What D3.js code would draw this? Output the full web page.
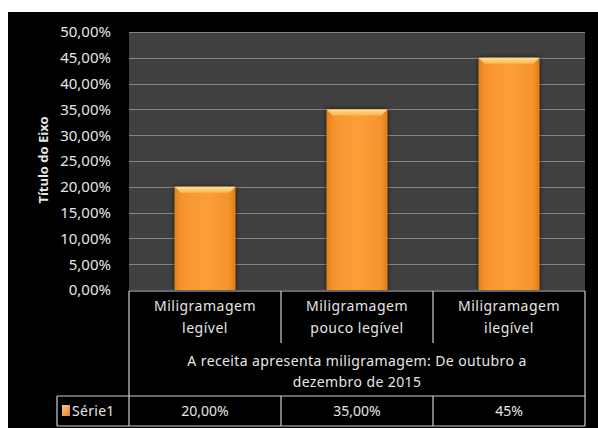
<!DOCTYPE html>
<html>
<head>
<meta charset="utf-8">
<script src="https://cdn.jsdelivr.net/npm/d3@7"></script>
<style>
  html, body { margin: 0; padding: 0; background: #fff; }
  svg { display: block; }
  text { font-family: "Noto Sans", "Open Sans", sans-serif; fill: #e6e6e6; }
</style>
</head>
<body>
<div id="chart"></div>
<script>
const categories = [
  ['Miligramagem', 'legível'],
  ['Miligramagem', 'pouco legível'],
  ['Miligramagem', 'ilegível']
];
const values = [0.20, 0.35, 0.45];
const valueLabels = ['20,00%', '35,00%', '45%'];
const yTicks = [0, 0.05, 0.10, 0.15, 0.20, 0.25, 0.30, 0.35, 0.40, 0.45, 0.50];
const seriesName = 'Série1';
const yTitle = 'Título do Eixo';
const xTitle = ['A receita apresenta miligramagem: De outubro a', 'dezembro de 2015'];

const width = 598, height = 428;
const plot = { left: 129, right: 585, top: 32, bottom: 290 };

const ptBR = d3.formatLocale({ decimal: ',', thousands: '.', grouping: [3], currency: ['R$', ''] });
const fmt = ptBR.format('.2%');

const svg = d3.select('#chart').append('svg')
  .attr('width', width)
  .attr('height', height);

const defs = svg.append('defs');

const grad = defs.append('linearGradient')
  .attr('id', 'barGrad')
  .attr('x1', 0).attr('x2', 1).attr('y1', 0).attr('y2', 0);
grad.append('stop').attr('offset', '0%').attr('stop-color', '#e4801c');
grad.append('stop').attr('offset', '12%').attr('stop-color', '#f6942c');
grad.append('stop').attr('offset', '50%').attr('stop-color', '#fb9f36');
grad.append('stop').attr('offset', '88%').attr('stop-color', '#f6942c');
grad.append('stop').attr('offset', '100%').attr('stop-color', '#e27e1b');

const capGrad = defs.append('linearGradient')
  .attr('id', 'capGrad')
  .attr('x1', 0).attr('x2', 0).attr('y1', 0).attr('y2', 1);
capGrad.append('stop').attr('offset', '0%').attr('stop-color', '#ffe09a');
capGrad.append('stop').attr('offset', '100%').attr('stop-color', '#fcb650');

const keyGrad = defs.append('linearGradient')
  .attr('id', 'keyGrad')
  .attr('x1', 0).attr('x2', 1).attr('y1', 0).attr('y2', 1);
keyGrad.append('stop').attr('offset', '0%').attr('stop-color', '#f9c98a');
keyGrad.append('stop').attr('offset', '100%').attr('stop-color', '#e5821f');

const shadow = defs.append('filter')
  .attr('id', 'shadow')
  .attr('x', '-20%').attr('y', '-10%').attr('width', '140%').attr('height', '120%');
shadow.append('feGaussianBlur').attr('in', 'SourceAlpha').attr('stdDeviation', 2.5).attr('result', 'b');
shadow.append('feComponentTransfer').attr('in', 'b').attr('result', 's')
  .append('feFuncA').attr('type', 'linear').attr('slope', 0.7);
const merge = shadow.append('feMerge');
merge.append('feMergeNode').attr('in', 's');
merge.append('feMergeNode').attr('in', 'SourceGraphic');

// background
svg.append('rect')
  .attr('x', 8).attr('y', 12)
  .attr('width', width - 8).attr('height', height - 12)
  .attr('fill', '#000');

const x = d3.scaleBand()
  .domain(d3.range(categories.length))
  .range([plot.left, plot.right]);

const y = d3.scaleLinear()
  .domain([0, 0.5])
  .range([plot.bottom, plot.top]);

// plot area
svg.append('rect')
  .attr('x', plot.left).attr('y', plot.top)
  .attr('width', plot.right - plot.left).attr('height', plot.bottom - plot.top)
  .attr('fill', '#404040');

// gridlines
svg.append('g')
  .selectAll('line')
  .data(yTicks.filter(d => d > 0))
  .join('line')
  .attr('x1', plot.left).attr('x2', plot.right)
  .attr('y1', d => Math.round(y(d)) + 0.5).attr('y2', d => Math.round(y(d)) + 0.5)
  .attr('stroke', '#858585')
  .attr('stroke-width', 1.2);

// y axis labels
const yAxis = d3.axisLeft(y).tickValues(yTicks).tickFormat(fmt).tickSize(0).tickPadding(18);
const yg = svg.append('g')
  .attr('transform', `translate(${plot.left},0)`)
  .call(yAxis);
yg.select('.domain').remove();
yg.selectAll('text')
  .attr('font-size', 15)
  .attr('fill', '#e2e2e2')
  .style('font-family', '"Noto Sans", sans-serif');

// y title
svg.append('text')
  .attr('transform', `translate(48,160) rotate(-90)`)
  .attr('text-anchor', 'middle')
  .attr('font-size', 13)
  .attr('font-weight', 'bold')
  .attr('fill', '#ffffff')
  .text(yTitle);

// bars
const barW = x.bandwidth() * 0.4;
const bars = svg.append('g').selectAll('g')
  .data(values)
  .join('g')
  .attr('filter', 'url(#shadow)');

bars.append('rect')
  .attr('x', (d, i) => x(i) + (x.bandwidth() - barW) / 2)
  .attr('y', d => y(d))
  .attr('width', barW)
  .attr('height', d => y(0) - y(d))
  .attr('fill', 'url(#barGrad)');

bars.append('path')
  .attr('d', (d, i) => {
    const x0 = x(i) + (x.bandwidth() - barW) / 2;
    const x1 = x0 + barW;
    const t = y(d);
    return `M${x0},${t}L${x1},${t}L${x1 - 6},${t + 6}L${x0 + 6},${t + 6}Z`;
  })
  .attr('fill', 'url(#capGrad)');

// data table
const tableTop = 291, catBottom = 343, legTop = 396, tableBottom = 426, legLeft = 57;
const tg = svg.append('g').attr('stroke', '#cfcfcf').attr('stroke-width', 1.2).attr('fill', 'none');

tg.append('line').attr('x1', plot.left).attr('x2', plot.right).attr('y1', tableTop).attr('y2', tableTop);
tg.append('line').attr('x1', legLeft).attr('x2', plot.right).attr('y1', legTop).attr('y2', legTop);
tg.append('line').attr('x1', legLeft).attr('x2', plot.right).attr('y1', tableBottom).attr('y2', tableBottom);
tg.append('line').attr('x1', plot.left).attr('x2', plot.left).attr('y1', tableTop).attr('y2', tableBottom);
tg.append('line').attr('x1', plot.right).attr('x2', plot.right).attr('y1', tableTop).attr('y2', tableBottom);
tg.append('line').attr('x1', legLeft).attr('x2', legLeft).attr('y1', legTop).attr('y2', tableBottom);

tg.selectAll('line.div')
  .data(d3.range(1, categories.length))
  .join('line')
  .attr('class', 'div')
  .attr('x1', i => x(i)).attr('x2', i => x(i))
  .attr('y1', tableTop).attr('y2', catBottom);

tg.selectAll('line.div2')
  .data(d3.range(1, categories.length))
  .join('line')
  .attr('class', 'div2')
  .attr('x1', i => x(i)).attr('x2', i => x(i))
  .attr('y1', legTop).attr('y2', tableBottom);

// category labels
const cat = svg.append('g').selectAll('text')
  .data(categories)
  .join('text')
  .attr('text-anchor', 'middle')
  .attr('font-size', 14)
  .attr('letter-spacing', 0.5)
  .attr('fill', '#e8e8e8');
cat.selectAll('tspan')
  .data((d, i) => d.map(s => ({ s, i })))
  .join('tspan')
  .attr('x', d => x(d.i) + x.bandwidth() / 2)
  .attr('y', (d, j) => 311 + j * 22)
  .text(d => d.s);

// x title
svg.append('g').selectAll('text')
  .data(xTitle)
  .join('text')
  .attr('x', (plot.left + plot.right) / 2)
  .attr('y', (d, i) => 366 + i * 21)
  .attr('text-anchor', 'middle')
  .attr('font-size', 14)
  .attr('letter-spacing', 0.4)
  .attr('fill', '#e8e8e8')
  .text(d => d);

// value row
svg.append('g').selectAll('text')
  .data(valueLabels)
  .join('text')
  .attr('x', (d, i) => x(i) + x.bandwidth() / 2)
  .attr('y', 416)
  .attr('text-anchor', 'middle')
  .attr('font-size', 14)
  .attr('fill', '#e8e8e8')
  .text(d => d);

// legend key
svg.append('rect')
  .attr('x', 62).attr('y', 405)
  .attr('width', 8).attr('height', 11)
  .attr('fill', 'url(#keyGrad)');
svg.append('text')
  .attr('x', 72).attr('y', 416)
  .attr('font-size', 14)
  .attr('letter-spacing', 0.3)
  .attr('fill', '#e8e8e8')
  .text(seriesName);
</script>
</body>
</html>
